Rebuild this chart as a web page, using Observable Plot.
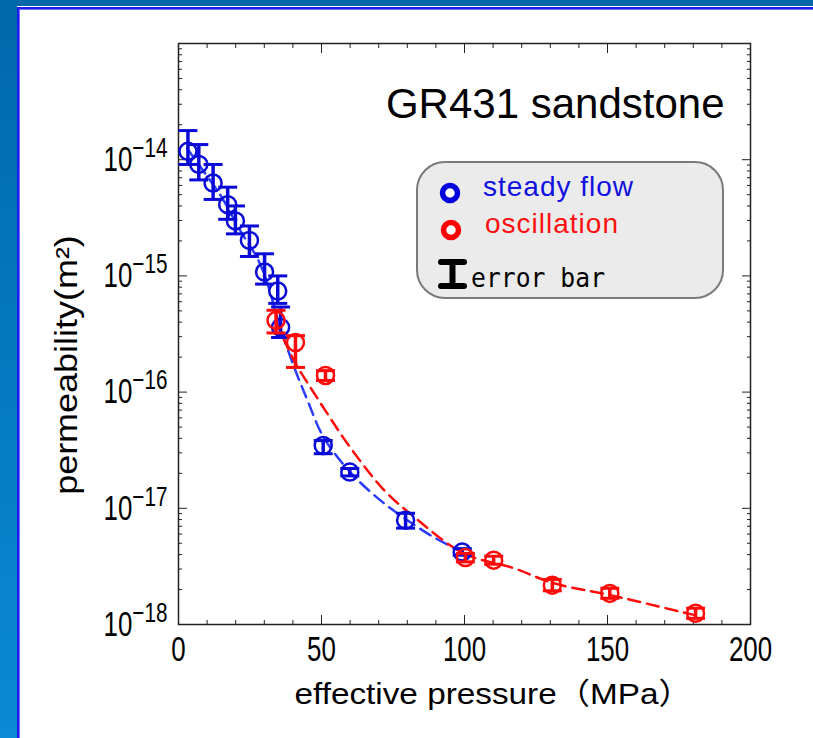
<!DOCTYPE html>
<html><head><meta charset="utf-8">
<script src="https://cdn.jsdelivr.net/npm/d3@7"></script>
<script src="https://cdn.jsdelivr.net/npm/@observablehq/plot@0.6"></script>
<style>
html,body{margin:0;padding:0;background:#fff;}
#page{position:relative;width:813px;height:738px;overflow:hidden;background:#fff;}
#bgTop{position:absolute;left:0;top:0;width:813px;height:6px;background:#0068ab;}
#bgLeft{position:absolute;left:0;top:0;width:17px;height:738px;background:linear-gradient(#0068ab,#0a8ad6);}
#edgeTop{position:absolute;left:17px;top:7px;width:796px;height:2px;background:#1c1cf0;}
#edgeTop2{position:absolute;left:19px;top:9px;width:794px;height:1px;background:#7070ff;}
#edgeLeft{position:absolute;left:17px;top:7px;width:2px;height:731px;background:#1c1cf0;}
#edgeLeft2{position:absolute;left:19px;top:9px;width:1px;height:729px;background:#7070ff;}
#chart{position:absolute;left:0;top:0;}
#legend{position:absolute;left:0;top:0;pointer-events:none;}
</style>
</head><body>
<div id="page">
<div id="bgTop"></div><div id="bgLeft"></div>
<div id="edgeTop"></div><div id="edgeTop2"></div><div id="edgeLeft"></div><div id="edgeLeft2"></div>
<div id="chart"></div>
<svg id="legend" width="813" height="738">
  <rect x="417" y="162" width="306" height="136" rx="28" ry="28" fill="#ebebeb" stroke="#7a7a7a" stroke-width="2"/>
  <circle cx="450" cy="193" r="7.5" fill="#fff" stroke="#0000dd" stroke-width="5.5"/>
  <text x="483" y="196" fill="#1010e0" font-family="Liberation Sans, Arial, sans-serif" font-size="28" letter-spacing="1">steady flow</text>
  <circle cx="451" cy="230" r="7.5" fill="#fff" stroke="#ff0000" stroke-width="5.5"/>
  <text x="485" y="233" fill="#ff1010" font-family="Liberation Sans, Arial, sans-serif" font-size="28" letter-spacing="1">oscillation</text>
  <path d="M441,262H464M452.5,262V286M441,286H464" stroke="#000" stroke-width="6" stroke-linecap="round" fill="none"/>
  <text x="471" y="287" fill="#000" font-family="DejaVu Sans Mono, monospace" font-size="25" transform="translate(471,287) scale(0.99,1.05) translate(-471,-287)">error bar</text>
</svg>
</div>
<script>
// ---- data ----
const steadyP  = [3.3, 7.1, 12.1, 17.2, 19.9, 24.8, 30.1, 34.7, 35.7, 50.6, 59.9, 79.4, 99.2];
const steadyK  = [1.18e-14, 9.1e-15, 6.3e-15, 4.1e-15, 2.97e-15, 2.02e-15, 1.08e-15, 7.4e-16, 3.6e-16, 3.47e-17, 2.05e-17, 7.9e-18, 4.2e-18];
const steadyLo = [9.1e-15, 6.7e-15, 4.55e-15, 3.07e-15, 2.3e-15, 1.47e-15, 8.5e-16, 5.8e-16, 2.95e-16, 2.95e-17, 1.9e-17, 6.75e-18, 3.95e-18];
const steadyHi = [1.78e-14, 1.35e-14, 9.1e-15, 5.8e-15, 4.0e-15, 2.69e-15, 1.55e-15, 1.0e-15, 5.4e-16, 3.83e-17, 2.2e-17, 9.06e-18, 4.5e-18];

const oscP  = [34.1, 40.9, 51.4, 100.3, 110.2, 130.7, 150.8, 180.8];
const oscK  = [4.14e-16, 2.67e-16, 1.39e-16, 3.77e-18, 3.58e-18, 2.18e-18, 1.85e-18, 1.25e-18];
const oscLo = [3.23e-16, 1.63e-16, 1.26e-16, 3.46e-18, 3.3e-18, 1.95e-18, 1.68e-18, 1.13e-18];
const oscHi = [5.06e-16, 3.06e-16, 1.53e-16, 4.09e-18, 3.87e-18, 2.44e-18, 2.05e-18, 1.38e-18];

const steadyFitP = [3, 8.7, 15, 21.7, 28, 31.5, 35, 40.2, 45.1, 50.7, 60.1, 70.6, 80, 90, 99.3];
const steadyFitK = [1.25e-14, 8.0e-15, 4.8e-15, 2.43e-15, 1.35e-15, 8.0e-16, 4.0e-16, 1.7e-16, 8.5e-17, 4.1e-17, 2.04e-17, 1.17e-17, 7.9e-18, 5.5e-18, 4.2e-18];
const oscFitP = [34, 40.2, 46.2, 52.1, 59.1, 71.7, 82.2, 99.7, 117.1, 131.1, 151.0, 180.1];
const oscFitK = [4.1e-16, 1.9e-16, 1.09e-16, 6.5e-17, 3.6e-17, 1.45e-17, 8.5e-18, 4.1e-18, 3.06e-18, 2.27e-18, 1.79e-18, 1.21e-18];

const xMajor = [0, 50, 100, 150, 200];
const xMinor = [10, 20, 30, 40, 60, 70, 80, 90, 110, 120, 130, 140, 160, 170, 180, 190];
const yMajor = [1e-18, 1e-17, 1e-16, 1e-15, 1e-14];
const yMantissa = [2, 3, 4, 5, 6, 7, 8, 9];
const yMinor = yMajor.flatMap(d => yMantissa.map(m => m * d));

const title = "GR431 sandstone";
const xLabel = "effective pressure（MPa）";
const yLabel = "permeability(m²)";

// ---- build tables ----
const steady = steadyP.map((p, i) => ({p, k: steadyK[i], lo: steadyLo[i], hi: steadyHi[i]}));
const osc = oscP.map((p, i) => ({p, k: oscK[i], lo: oscLo[i], hi: oscHi[i]}));
const steadyFit = steadyFitP.map((p, i) => ({p, k: steadyFitK[i]}));
const oscFit = oscFitP.map((p, i) => ({p, k: oscFitK[i]}));

const BLUE = "#0a0ad8", RED = "#ff0a0a";
const capSymbol = {draw(ctx, size) { const w = Math.sqrt(size / Math.PI); ctx.moveTo(-w, 0); ctx.lineTo(w, 0); }};

function errMarks(data, color) {
  return [
    Plot.ruleX(data, {x: "p", y1: "lo", y2: "hi", stroke: color, strokeWidth: 3.5}),
    Plot.dot(data, {x: "p", y: "lo", symbol: capSymbol, r: 9.5, fill: "none", stroke: color, strokeWidth: 3}),
    Plot.dot(data, {x: "p", y: "hi", symbol: capSymbol, r: 9.5, fill: "none", stroke: color, strokeWidth: 3})
  ];
}

const chart = Plot.plot({
  width: 813, height: 738,
  marginLeft: 178, marginRight: 63, marginTop: 43, marginBottom: 114,
  style: {background: "transparent", fontFamily: "'Liberation Sans', Arial, sans-serif", fontSize: "35px", color: "#000"},
  x: {domain: [0, 200]},
  y: {type: "log", domain: [1e-18, 1e-13]},
  marks: [
    Plot.frame({stroke: "#222", strokeWidth: 1.5}),
    // ticks (inward) on all four sides
    Plot.axisX({anchor: "bottom", ticks: xMajor, tickSize: -9, fill: "none", stroke: "#222", label: null}),
    Plot.axisX({anchor: "bottom", ticks: xMinor, tickSize: -4, fill: "none", stroke: "#222", label: null}),
    Plot.axisX({anchor: "top", ticks: xMajor, tickSize: -9, fill: "none", stroke: "#222", label: null}),
    Plot.axisX({anchor: "top", ticks: xMinor, tickSize: -4, fill: "none", stroke: "#222", label: null}),
    Plot.axisY({anchor: "left", ticks: yMajor, tickSize: -9, fill: "none", stroke: "#222", label: null}),
    Plot.axisY({anchor: "left", ticks: yMinor, tickSize: -4, fill: "none", stroke: "#222", label: null}),
    Plot.axisY({anchor: "right", ticks: yMajor, tickSize: -9, fill: "none", stroke: "#222", label: null}),
    Plot.axisY({anchor: "right", ticks: yMinor, tickSize: -4, fill: "none", stroke: "#222", label: null}),
    // tick labels
    Plot.axisX({anchor: "bottom", ticks: xMajor, tickSize: 0, tickPadding: 12, tickFormat: d => String(d), label: null}),
    Plot.axisY({anchor: "left", ticks: yMajor, tickSize: 0, tickPadding: 11, tickFormat: d => "10^" + Math.round(Math.log10(d)), label: null}),
    // axis titles
    Plot.text([xLabel], {frameAnchor: "bottom-left", dx: 116, dy: 79, text: d => d, textAnchor: "start", fontSize: 30, fontFamily: "'Liberation Sans', 'Noto Sans CJK JP', sans-serif"}),
    Plot.text([yLabel], {frameAnchor: "left", dx: -111, dy: 31, rotate: -90, text: d => d, textAnchor: "middle", lineAnchor: "middle", fontSize: 31, fontFamily: "'Liberation Sans', Arial, sans-serif"}),
    Plot.text([title], {frameAnchor: "top-right", dx: -26, dy: 45, text: d => d, textAnchor: "end", lineAnchor: "top", fontSize: 42, fontFamily: "'Liberation Sans', Arial, sans-serif"}),
    // fitted curves
    Plot.line(steadyFit, {x: "p", y: "k", stroke: "#2a3cff", strokeWidth: 2.5, strokeDasharray: "12,7", curve: "catmull-rom"}),
    Plot.line(oscFit, {x: "p", y: "k", stroke: RED, strokeWidth: 2.5, strokeDasharray: "12,7", curve: "catmull-rom"}),
    // data
    ...errMarks(steady, BLUE),
    Plot.dot(steady, {x: "p", y: "k", r: 8.5, fill: "none", stroke: BLUE, strokeWidth: 2.5}),
    ...errMarks(osc, RED),
    Plot.dot(osc, {x: "p", y: "k", r: 8.5, fill: "none", stroke: RED, strokeWidth: 2.5})
  ]
});

const ns = "http://www.w3.org/2000/svg";
function addScale(t, sx, sy) {
  let tr = t.getAttribute("transform");
  if (!tr) {
    const x = +t.getAttribute("x") || 0, y = +t.getAttribute("y") || 0;
    t.removeAttribute("x"); t.removeAttribute("y");
    tr = `translate(${x},${y})`;
  }
  t.setAttribute("transform", `${tr} scale(${sx},${sy})`);
}

// condensed tick labels
chart.querySelectorAll('g[aria-label="x-axis tick label"] text').forEach(t => addScale(t, 0.74, 1));
// superscript exponents on y tick labels
chart.querySelectorAll('g[aria-label="y-axis tick label"] text').forEach(t => {
  const [base, exp] = t.textContent.split("^");
  t.textContent = "";
  const a = document.createElementNS(ns, "tspan"); a.textContent = base; t.appendChild(a);
  const b = document.createElementNS(ns, "tspan"); b.textContent = exp.replace("-", "−");
  b.setAttribute("dy", "-14"); b.setAttribute("font-size", "28"); t.appendChild(b);
  addScale(t, 0.74, 1);
});
// wider axis titles
chart.querySelectorAll('g[aria-label="text"] text').forEach(t => {
  if (t.textContent === xLabel) addScale(t, 1.11, 1);
  if (t.textContent === yLabel) addScale(t, 1.16, 1);
});

document.getElementById("chart").appendChild(chart);
</script>
</body></html>
